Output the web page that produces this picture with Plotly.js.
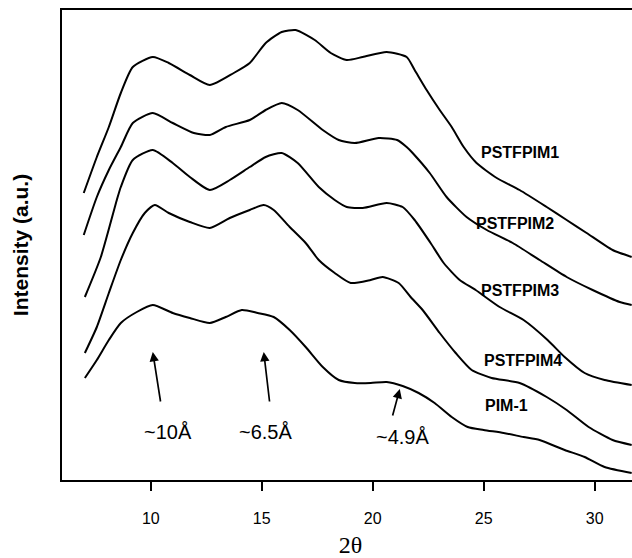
<!DOCTYPE html>
<html>
<head>
<meta charset="utf-8">
<script src="https://cdn.plot.ly/plotly-3.0.1.min.js"></script>
<style>
html,body{margin:0;padding:0;overflow:hidden;background:#fff;}
#chart{width:645px;height:558px;}
</style>
</head>
<body>
<div id="chart"></div>
<script>
// Series names
var seriesNames = ["PSTFPIM1", "PSTFPIM2", "PSTFPIM3", "PSTFPIM4", "PIM-1"];

// 2-theta values and (offset) intensities in arbitrary units
var x1 = [6.98,7.57,8.11,8.65,9.19,10.09,10.81,11.76,12.66,13.74,14.46,15.18,15.90,16.53,17.39,18.11,18.83,19.55,20.63,21.53,21.89,22.43,23.02,23.56,24.10,24.68,25.59,26.62,27.84,28.74,29.64,30.81,31.67];
var y1 = [287,323,353,387,413,423,417,405,395,407,417,437,448,450,440,427,420,423,428,423,410,390,370,353,333,317,302,290,273,260,247,230,223];

var x2 = [6.98,7.57,8.11,8.65,9.19,10.09,10.99,11.94,12.66,13.38,14.46,15.18,15.90,16.62,17.75,18.47,19.19,20.27,21.10,21.53,21.80,22.57,23.33,24.23,25.14,26.31,27.52,28.74,29.91,31.13,31.67];
var y2 = [245,283,310,333,357,367,357,347,345,353,360,370,377,370,350,340,337,342,340,333,327,307,283,263,250,237,220,203,190,178,175];

var x3 = [7.03,7.75,8.47,8.65,9.19,10.09,10.99,11.76,12.66,13.56,14.46,15.18,15.90,16.62,17.57,18.29,18.83,19.55,20.63,21.35,21.89,22.61,23.20,23.92,24.64,25.72,26.80,27.88,28.65,29.55,30.45,31.67];
var y3 = [183,223,280,293,320,330,317,303,290,300,313,323,327,317,293,280,273,272,277,273,260,237,217,200,190,173,160,140,123,107,100,95];

var x4 = [7.03,7.57,8.11,8.65,9.19,9.73,10.18,10.81,11.76,12.66,13.56,14.46,15.09,15.54,16.26,16.98,17.57,18.29,19.01,19.91,20.45,21.17,21.71,22.25,23.02,23.74,24.46,25.36,26.62,27.84,28.74,29.73,30.81,31.67];
var y4 = [127,153,187,220,247,267,275,267,258,252,262,270,275,270,253,237,220,207,197,200,203,197,183,170,147,127,110,102,97,83,70,53,40,35];

var x5 = [7.03,7.57,8.11,8.65,9.37,10.09,10.99,11.76,12.66,13.38,14.10,14.82,15.54,16.26,16.98,17.75,18.47,19.19,19.91,20.63,21.35,22.07,22.79,23.56,24.28,25.00,25.90,26.80,27.52,28.65,29.55,30.45,31.67];
var y5 = [102,120,140,157,168,175,167,162,157,163,170,167,163,150,133,113,100,97,97,98,94,87,77,63,53,50,47,43,40,30,23,13,7];

var xs = [x1, x2, x3, x4, x5];
var ys = [y1, y2, y3, y4, y5];

// Tick labels
var tickVals = [10, 15, 20, 25, 30];
var tickText = ["10", "15", "20", "25", "30"];

// Peak annotations (d-spacings)
var peakLabels = ["~10Å", "~6.5Å", "~4.9Å"];

var traces = xs.map(function(xv, i){
  return {
    x: xv, y: ys[i], type: "scatter", mode: "lines", name: seriesNames[i],
    line: {color: "#000", width: 2, shape: "spline", smoothing: 0.6},
    hoverinfo: "skip", showlegend: false
  };
});

var sans = "Arial, 'Liberation Sans', sans-serif";

var annotations = [];
// Series labels
var labelPos = [[26.62,328],[26.40,257],[26.62,190],[26.76,120],[26.04,75]];
seriesNames.forEach(function(n, i){
  annotations.push({x: labelPos[i][0], y: labelPos[i][1], xref: "x", yref: "y",
    text: "<b>" + n + "</b>", showarrow: false,
    font: {family: sans, size: 16, color: "#000"}});
});
// Arrows
var arrows = [[10.09,128,10.45,77],[15.09,128,15.36,77],[21.22,91,20.88,63]];
arrows.forEach(function(a){
  annotations.push({x: a[0], y: a[1], ax: a[2], ay: a[3], xref: "x", yref: "y",
    axref: "x", ayref: "y", text: "", showarrow: true, arrowhead: 2,
    arrowsize: 1.1, arrowwidth: 1.7, arrowcolor: "#000"});
});
// Peak text
var peakPos = [[10.77,48],[15.18,48],[21.35,43]];
peakLabels.forEach(function(t, i){
  annotations.push({x: peakPos[i][0], y: peakPos[i][1], xref: "x", yref: "y",
    text: t, showarrow: false, font: {family: sans, size: 20, color: "#000"}});
});

var layout = {
  width: 645, height: 558,
  margin: {l: 62, r: 6, t: 10, b: 78},
  paper_bgcolor: "#fff", plot_bgcolor: "#fff",
  font: {family: sans, color: "#000"},
  showlegend: false,
  xaxis: {
    range: [6, 32], showgrid: false, zeroline: false,
    showline: true, mirror: true, linecolor: "#000", linewidth: 2,
    ticks: "outside", ticklen: 9, tickwidth: 2, tickcolor: "#000",
    tickvals: tickVals, ticktext: tickText, ticklabelstandoff: 14,
    tickfont: {family: sans, size: 16, color: "#000"},
    title: {text: "2θ", font: {family: "'Times New Roman', 'Liberation Serif', serif", size: 24, color: "#000"}, standoff: 11}
  },
  yaxis: {
    range: [0, 470], showgrid: false, zeroline: false,
    showline: true, mirror: true, linecolor: "#000", linewidth: 2,
    ticks: "", showticklabels: false,
    title: {text: "<b>Intensity (a.u.)</b>", font: {family: sans, size: 21, color: "#000"}, standoff: 26}
  },
  annotations: annotations
};

Plotly.newPlot("chart", traces, layout, {displayModeBar: false, staticPlot: true});
</script>
</body>
</html>
